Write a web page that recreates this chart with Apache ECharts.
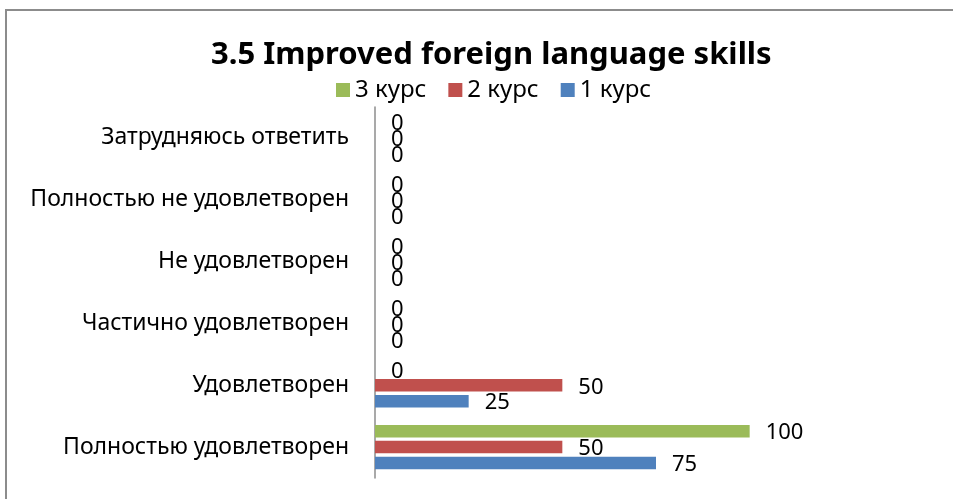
<!DOCTYPE html>
<html>
<head>
<meta charset="utf-8">
<script src="https://cdn.jsdelivr.net/npm/echarts@6/dist/echarts.min.js"></script>
<style>
html,body{margin:0;padding:0;background:#fff;}
#chart{width:953px;height:499px;}
</style>
</head>
<body>
<div id="chart"></div>
<script>
const categories = ['Полностью удовлетворен','Удовлетворен','Частично удовлетворен','Не удовлетворен','Полностью не удовлетворен','Затрудняюсь ответить'];
const seriesNames = ['3 курс','2 курс','1 курс'];
const course3 = [100, 0, 0, 0, 0, 0];
const course2 = [50, 50, 0, 0, 0, 0];
const course1 = [75, 25, 0, 0, 0, 0];
const colors = ['#9BBB59','#C0504D','#4F81BD'];
const FONT = 'Noto Sans';

const chart = echarts.init(document.getElementById('chart'), null, {renderer:'canvas'});
const mk = (name, data, color) => ({
  name, type:'bar', data, barWidth:12.5, barGap:'27%',
  itemStyle:{color},
  label:{show:true, position:'right', distance:16, offset:[0,2], color:'#000', fontSize:22, fontFamily:FONT},
  animation:false
});
chart.setOption({
  animation:false,
  backgroundColor:'#fff',
  graphic:[{type:'rect', shape:{x:6, y:10, width:970, height:520}, style:{fill:'none', stroke:'#8c8c8c', lineWidth:2}, silent:true}],
  title:{text:'3.5 Improved foreign language skills', left:206, top:35, textStyle:{fontFamily:FONT, fontSize:31, fontWeight:'bold', color:'#000'}},
  legend:{data:seriesNames, top:73, left:331, itemWidth:14, itemHeight:14, itemGap:22, icon:'rect', textStyle:{fontFamily:FONT, fontSize:24, color:'#000', padding:[0,0,0,0]}},
  grid:{left:375, right:16, top:107, bottom:21, containLabel:false},
  xAxis:{type:'value', min:0, max:150, show:false},
  yAxis:{type:'category', data:categories, axisTick:{show:false}, axisLine:{lineStyle:{color:'#8c8c8c', width:1.5}}, axisLabel:{fontFamily:FONT, fontSize:23, color:'#000', margin:26}},
  series:[mk(seriesNames[0], course3, colors[0]), mk(seriesNames[1], course2, colors[1]), mk(seriesNames[2], course1, colors[2])]
});
</script>
</body>
</html>
